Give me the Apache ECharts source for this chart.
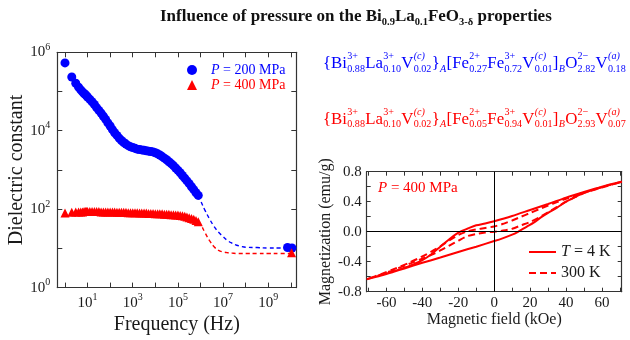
<!DOCTYPE html>
<html><head><meta charset="utf-8">
<script src="https://cdn.jsdelivr.net/npm/echarts@6/dist/echarts.min.js"></script>
<style>html,body{margin:0;padding:0;background:#fff}#c{width:630px;height:340px}</style>
</head><body><div id="c"></div>
<script>
const SERIF = '"Liberation Serif", "Times New Roman", serif';

// ---- Dielectric data (frequency in Hz, dielectric constant) ----
const freqHz = [1, 2, 3, 4, 5, 6, 7, 8, 9, 10,
  12.6, 15.8, 20, 25.1, 31.6, 39.8, 50.1, 63.1, 79.4, 100,
  126, 158, 200, 251, 316, 398, 501, 631, 794, 1e3,
  1.26e3, 1.58e3, 2e3, 2.51e3, 3.16e3, 3.98e3, 5.01e3, 6.31e3, 7.94e3, 1e4,
  1.26e4, 1.58e4, 2e4, 2.51e4, 3.16e4, 3.98e4, 5.01e4, 6.31e4, 7.94e4, 1e5,
  1.26e5, 1.58e5, 2e5, 2.51e5, 3.16e5, 3.98e5, 5.01e5, 6.31e5, 7.94e5];
const eps200 = [5.37e5, 2.34e5, 1.62e5, 1.29e5, 1.10e5, 9.77e4, 8.91e4, 8.32e4, 7.76e4, 7.24e4,
  6.31e4, 5.50e4, 4.68e4, 3.89e4, 3.31e4, 2.82e4, 2.34e4, 1.95e4, 1.58e4, 1.32e4,
  1.07e4, 8.91e3, 7.59e3, 6.46e3, 5.62e3, 5.01e3, 4.57e3, 4.17e3, 3.89e3, 3.72e3,
  3.55e3, 3.39e3, 3.31e3, 3.24e3, 3.16e3, 3.09e3, 3.02e3, 2.95e3, 2.88e3, 2.75e3,
  2.57e3, 2.40e3, 2.19e3, 2.00e3, 1.82e3, 1.62e3, 1.45e3, 1.29e3, 1.12e3, 977,
  851, 724, 617, 525, 447, 372, 316, 263, 224];
const eps400 = [79.4, 83.2, 85.1, 85.1, 85.1, 85.1, 87.1, 87.1, 87.1, 87.1,
  87.1, 87.1, 87.1, 87.1, 87.1, 85.1, 85.1, 85.1, 85.1, 85.1,
  85.1, 85.1, 83.2, 83.2, 83.2, 83.2, 83.2, 81.3, 81.3, 81.3,
  81.3, 81.3, 79.4, 79.4, 79.4, 79.4, 77.6, 77.6, 77.6, 75.9,
  75.9, 75.9, 75.9, 74.1, 74.1, 74.1, 72.4, 72.4, 70.8, 70.8,
  69.2, 67.6, 66.1, 63.1, 60.3, 57.5, 55.0, 51.3, 47.9];
// microwave points
const mwFreq200 = [7.1e9, 1.12e10];
const mwEps200 = [10.5, 10.2];
const mwFreq400 = [1.07e10];
const mwEps400 = [7.7];
// dashed guide curves
const fitFreqHz = [7.94e5, 1e6, 1.58e6, 2.51e6, 3.98e6, 6.31e6, 1e7, 1.58e7, 2.51e7, 3.98e7, 6.31e7, 1e8, 3.16e8, 1e9, 3.16e9, 1e10];
const fit200 = [224, 166, 93.3, 56.2, 36.3, 25.7, 20.0, 15.8, 13.5, 12.0, 11.2, 10.7, 10.5, 10.2, 10.2, 10.2];
const fit400 = [47.9, 41.7, 25.1, 15.8, 11.0, 8.91, 8.13, 7.76, 7.59, 7.41, 7.41, 7.41, 7.41, 7.41, 7.41, 7.41];
const xLabelExps = [1, 3, 5, 7, 9];
const yLabelExps = [0, 2, 4, 6];

// ---- Magnetization loops (field kOe, magnetization emu/g) ----
const field4K = [71, 60, 50, 40, 30, 20, 10, 0, -5, -10, -15, -18, -21, -25, -30, -35, -40, -45, -50, -56, -63, -71,
  -63, -56, -50, -40, -30, -20, -10, 0, 5, 10, 13, 18, 22, 26, 30, 35, 40, 45, 50, 60, 71];
const mag4K = [0.665, 0.60, 0.53, 0.455, 0.37, 0.29, 0.21, 0.14, 0.11, 0.085, 0.04, 0.01, -0.03, -0.10, -0.20, -0.30, -0.38, -0.435, -0.48, -0.53, -0.58, -0.635,
  -0.585, -0.535, -0.49, -0.415, -0.345, -0.27, -0.20, -0.125, -0.085, -0.04, -0.005, 0.065, 0.12, 0.19, 0.25, 0.32, 0.40, 0.46, 0.52, 0.595, 0.665];
const field300K = [71, 60, 50, 45, 40, 35, 30, 25, 20, 15, 10, 5, 0, -5, -10, -15, -20, -25, -30, -35, -40, -47, -55, -63, -71,
  -63, -55, -47, -40, -35, -30, -25, -20, -15, -10, -5, 0, 5, 10, 15, 20, 25, 30, 35, 40, 45, 50, 60, 71];
const mag300K = [0.665, 0.595, 0.52, 0.48, 0.44, 0.395, 0.35, 0.30, 0.25, 0.20, 0.15, 0.105, 0.07, 0.05, 0.03, 0.005, -0.045, -0.115, -0.195, -0.265, -0.33, -0.41, -0.49, -0.565, -0.635,
  -0.57, -0.50, -0.425, -0.36, -0.31, -0.25, -0.185, -0.12, -0.06, -0.03, -0.01, 0.0, 0.015, 0.04, 0.085, 0.13, 0.19, 0.26, 0.33, 0.40, 0.46, 0.515, 0.59, 0.665];

// ---- Formula texts: [base, superscript, subscript] ----
const formula200 = [['{Bi','3+','0.88'], ['La','3+','0.10'], ['V','(c)','0.02'], ['}','','A'], ['[Fe','2+','0.27'], ['Fe','3+','0.72'], ['V','(c)','0.01'], [']','','B'], ['O','2\u2212','2.82'], ['V','(a)','0.18']];
const formula400 = [['{Bi','3+','0.88'], ['La','3+','0.10'], ['V','(c)','0.02'], ['}','','A'], ['[Fe','2+','0.05'], ['Fe','3+','0.94'], ['V','(c)','0.01'], [']','','B'], ['O','2\u2212','2.93'], ['V','(a)','0.07']];

const BLUE = '#0000ff', RED = '#ff0000', INK = '#1a1a1a', FRAME = '#333';

const ctx = document.createElement('canvas').getContext('2d');
function tw(t, fs, it) { ctx.font = (it ? 'italic ' : '') + fs + 'px "Liberation Serif"'; return ctx.measureText(t).width; }
function txt(t, x, yMid, fs, it, color) {
  return { type: 'text', x: x, y: yMid, silent: true,
    style: { text: t, fill: color, fontSize: fs, fontFamily: SERIF, fontStyle: it ? 'italic' : 'normal',
      align: 'left', verticalAlign: 'middle', textAlign: 'left', textVerticalAlign: 'middle' } };
}
function formulaGroup(tokens, x0, baseline, color, targetWidth) {
  const BASE = 17.5, SCR = 10.5, els = [];
  let x = 0;
  for (const [b, sup, sub] of tokens) {
    if (b) { els.push(txt(b, x, baseline - 0.32 * BASE, BASE, false, color)); x += tw(b, BASE, false); }
    let w = 0;
    if (sup) { const it = /[a-z]/.test(sup); els.push(txt(sup, x + 0.3, baseline - 9.5 - 0.32 * SCR, SCR, it, color)); w = Math.max(w, tw(sup, SCR, it)); }
    if (sub) { const it = /^[A-Z]$/.test(sub); els.push(txt(sub, x + 0.3, baseline + 3 - 0.32 * SCR, SCR, it, color)); w = Math.max(w, tw(sub, SCR, it)); }
    if (w) x += w + 0.6;
  }
  return { type: 'group', x: x0, y: 0, scaleX: targetWidth / x, scaleY: 1, children: els, silent: true };
}

const isInt = v => Math.abs(v - Math.round(v)) < 1e-6;
const powRich = {
  b: { fontFamily: SERIF, fontSize: 15, lineHeight: 20, color: INK },
  s: { fontFamily: SERIF, fontSize: 10, lineHeight: 10, verticalAlign: 'top', color: INK }
};
const frameAxis = (extra) => Object.assign({
  axisLine: { show: true, onZero: false, lineStyle: { color: FRAME, width: 1.2 } },
  splitLine: { show: false }
}, extra);

const logPts = (fs, es) => fs.map((f, i) => [Math.log10(f), Math.log10(es[i])]);

const chart = echarts.init(document.getElementById('c'), null, { renderer: 'canvas' });
chart.setOption({
  animation: false,
  backgroundColor: '#fff',
  title: {
    text: '{b|Influence of pressure on the Bi}{s|0.9}{b|La}{s|0.1}{b|FeO}{s|3-\u03b4}{b| properties}',
    left: 160, top: 6, padding: 0,
    textStyle: { rich: {
      b: { fontFamily: SERIF, fontWeight: 'bold', fontSize: 17, lineHeight: 22, color: '#111' },
      s: { fontFamily: SERIF, fontWeight: 'bold', fontSize: 10.5, lineHeight: 12, verticalAlign: 'bottom', color: '#111' }
    } }
  },
  legend: [{
    data: [{ name: 'P = 200 MPa', textStyle: { color: BLUE } }, { name: 'P = 400 MPa', textStyle: { color: RED } }],
    orient: 'vertical', left: 187, top: 63, itemWidth: 10, itemHeight: 10, itemGap: 1, padding: 0,
    selectedMode: false,
    formatter: n => '{i|P}' + n.slice(1),
    textStyle: { fontFamily: SERIF, fontSize: 14, padding: [0, 0, 0, 9], rich: { i: { fontFamily: SERIF, fontSize: 14, fontStyle: 'italic' } } }
  }, {
    data: ['T = 4 K', '300 K'],
    orient: 'vertical', left: 528, top: 244, itemWidth: 27, itemHeight: 14, itemGap: 5, padding: 0,
    selectedMode: false,
    itemStyle: { opacity: 0 },
    formatter: n => n.charAt(0) === 'T' ? '{i|T}' + n.slice(1) : n,
    textStyle: { fontFamily: SERIF, fontSize: 16, color: INK, rich: { i: { fontFamily: SERIF, fontSize: 16, fontStyle: 'italic', color: INK } } }
  }],
  grid: [
    { left: 57.3, top: 52.3, width: 239, height: 238.3 },
    { left: 366.7, top: 171.7, width: 255, height: 120 }
  ],
  xAxis: [
    frameAxis({ gridIndex: 0, type: 'value', min: -0.34, max: 10.24, splitNumber: 10,
      axisTick: { show: true, inside: true, length: 5, lineStyle: { color: FRAME } },
      axisLabel: { margin: 5, formatter: v => (isInt(v) && xLabelExps.includes(Math.round(v))) ? '{b|10}{s|' + Math.round(v) + '}' : '', rich: powRich },
      name: 'Frequency (Hz)', nameLocation: 'middle', nameGap: 23,
      nameTextStyle: { fontFamily: SERIF, fontSize: 20, color: INK } }),
    frameAxis({ gridIndex: 0, type: 'value', position: 'top', min: -0.34, max: 10.24, splitNumber: 10,
      axisTick: { show: true, inside: true, length: 5, lineStyle: { color: FRAME } }, axisLabel: { show: false } }),
    frameAxis({ gridIndex: 1, type: 'value', min: -71, max: 71, splitNumber: 14,
      axisTick: { show: true, inside: true, length: 4, lineStyle: { color: FRAME } },
      axisLabel: { margin: 4, fontFamily: SERIF, fontSize: 15, color: INK,
        formatter: v => (isInt(v) && Math.round(v) % 20 === 0 && Math.abs(v) <= 60) ? String(Math.round(v)) : '' },
      name: 'Magnetic field (kOe)', nameLocation: 'middle', nameGap: 15,
      nameTextStyle: { fontFamily: SERIF, fontSize: 16, color: INK } }),
    frameAxis({ gridIndex: 1, type: 'value', position: 'top', min: -71, max: 71, splitNumber: 14,
      axisTick: { show: true, inside: true, length: 4, lineStyle: { color: FRAME } }, axisLabel: { show: false } })
  ],
  yAxis: [
    frameAxis({ gridIndex: 0, type: 'value', min: 0, max: 6, interval: 1,
      axisTick: { show: true, inside: true, length: 5, lineStyle: { color: FRAME } },
      axisLabel: { margin: 7, formatter: v => yLabelExps.includes(Math.round(v)) ? '{b|10}{s|' + Math.round(v) + '}' : '', rich: powRich },
      name: 'Dielectric constant', nameLocation: 'middle', nameGap: 27.5,
      nameTextStyle: { fontFamily: SERIF, fontSize: 20, color: INK } }),
    frameAxis({ gridIndex: 0, type: 'value', position: 'right', min: 0, max: 6, interval: 1,
      axisTick: { show: true, inside: true, length: 5, lineStyle: { color: FRAME } }, axisLabel: { show: false } }),
    frameAxis({ gridIndex: 1, type: 'value', min: -0.8, max: 0.8, interval: 0.2,
      axisTick: { show: true, inside: true, length: 4, lineStyle: { color: FRAME } },
      axisLabel: { margin: 5, fontFamily: SERIF, fontSize: 15, color: INK,
        formatter: v => isInt(v / 0.4) ? v.toFixed(1) : '' },
      name: 'Magnetization (emu/g)', nameLocation: 'middle', nameGap: 33,
      nameTextStyle: { fontFamily: SERIF, fontSize: 16, color: INK } }),
    frameAxis({ gridIndex: 1, type: 'value', position: 'right', min: -0.8, max: 0.8, interval: 0.2,
      axisTick: { show: true, inside: true, length: 4, lineStyle: { color: FRAME } }, axisLabel: { show: false } })
  ],
  series: [
    { name: 'fit200', type: 'line', xAxisIndex: 0, yAxisIndex: 0, symbol: 'none', smooth: 0.4, z: 1,
      lineStyle: { color: BLUE, width: 1.4, type: [4, 3] }, data: logPts(fitFreqHz, fit200) },
    { name: 'fit400', type: 'line', xAxisIndex: 0, yAxisIndex: 0, symbol: 'none', smooth: 0.4, z: 1,
      lineStyle: { color: RED, width: 1.4, type: [4, 3] }, data: logPts(fitFreqHz, fit400) },
    { name: 'P = 200 MPa', type: 'scatter', xAxisIndex: 0, yAxisIndex: 0, symbol: 'circle', symbolSize: 9, z: 3,
      itemStyle: { color: BLUE, opacity: 1 }, data: logPts(freqHz, eps200).concat(logPts(mwFreq200, mwEps200)) },
    { name: 'P = 400 MPa', type: 'scatter', xAxisIndex: 0, yAxisIndex: 0, symbol: 'triangle', symbolSize: 9, z: 4,
      itemStyle: { color: RED, opacity: 1 }, data: logPts(freqHz, eps400).concat(logPts(mwFreq400, mwEps400)) },
    { name: 'T = 4 K', type: 'line', xAxisIndex: 2, yAxisIndex: 2, symbol: 'none', smooth: 0.3, z: 3,
      lineStyle: { color: RED, width: 2 }, itemStyle: { color: RED },
      data: field4K.map((h, i) => [h, mag4K[i]]),
      markLine: { silent: true, symbol: ['none', 'none'], label: { show: false }, animation: false,
        lineStyle: { color: '#000', width: 1, type: 'solid' }, emphasis: { disabled: true },
        data: [{ xAxis: 0 }, { yAxis: 0 }] } },
    { name: '300 K', type: 'line', xAxisIndex: 2, yAxisIndex: 2, symbol: 'none', smooth: 0.3, z: 3,
      lineStyle: { color: RED, width: 2, type: [7, 4] }, itemStyle: { color: RED },
      data: field300K.map((h, i) => [h, mag300K[i]]) }
  ],
  graphic: [
    { type: 'text', x: 378, y: 188.5, silent: true,
      style: { text: '{i|P} = 400 MPa', fill: RED, fontSize: 15, fontFamily: SERIF, verticalAlign: 'middle', textVerticalAlign: 'middle',
        rich: { i: { fontStyle: 'italic', fontSize: 15, fontFamily: SERIF, fill: RED, color: RED } } } },
    formulaGroup(formula200, 323, 69.5, BLUE, 303),
    formulaGroup(formula400, 323, 125, RED, 303)
  ]
});
</script></body></html>
